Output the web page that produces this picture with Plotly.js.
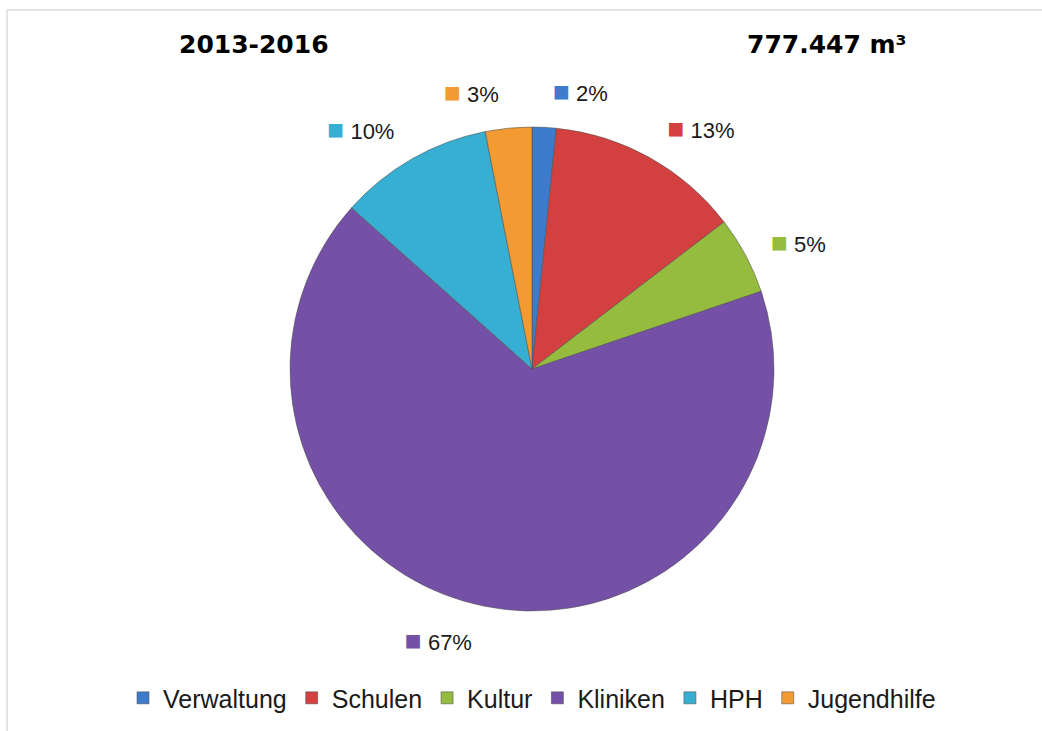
<!DOCTYPE html>
<html>
<head>
<meta charset="utf-8">
<script src="https://cdn.plot.ly/plotly-3.0.1.min.js"></script>
<style>
  body { margin: 0; background: #fff; }
  #plot { width: 1042px; height: 731px; }
  #frame {
    position: absolute; left: 6px; top: 9px; right: 0; bottom: 0;
    border-top: 2px solid #e4e4e4; border-left: 2px solid #e4e4e4;
    pointer-events: none;
  }
</style>
</head>
<body>
<div id="plot"></div>
<div id="frame"></div>
<script>
// Anteile nach Bereich (in %), 2013-2016
var bereiche = ["Verwaltung", "Schulen", "Kultur", "Kliniken", "HPH", "Jugendhilfe"];
var anteile = [1.6, 13.0, 5.2, 66.8, 10.3, 3.1];
var farben = ["#3d7ccc", "#d2413f", "#95bc3f", "#7450a6", "#36afd2", "#f39a32"];

var summe = anteile.reduce(function (a, b) { return a + b; }, 0);

// label = coloured square + percentage
var labelText = anteile.map(function (v, i) {
  return '<span style="color:' + farben[i] + ';font-size:28px">■</span> ' + Math.round(v / summe * 100) + '%';
});

// the visible pie
var pie = {
  type: "pie",
  labels: bereiche,
  values: anteile,
  textinfo: "none",
  sort: false,
  direction: "clockwise",
  rotation: 0,
  domain: { x: [0, 1], y: [0.0382, 0.9618] },
  marker: {
    colors: farben,
    line: { color: "rgba(80,80,80,0.55)", width: 1 }
  },
  hoverinfo: "label+percent"
};

// a slightly larger, invisible pie that only carries the outside labels
var labelRing = {
  type: "pie",
  labels: bereiche,
  values: anteile,
  text: labelText,
  textinfo: "text",
  textposition: "outside",
  sort: false,
  direction: "clockwise",
  rotation: 0,
  domain: { x: [0, 1], y: [0, 1] },
  showlegend: false,
  hoverinfo: "skip",
  marker: { colors: farben.map(function () { return "rgba(0,0,0,0)"; }), line: { width: 0 } },
  textfont: { family: "Liberation Sans, Arial, sans-serif", size: 22, color: "#1a1a1a" }
};

var layout = {
  width: 1042,
  height: 731,
  margin: { l: 22, r: 0, t: 107, b: 100 },
  paper_bgcolor: "#fff",
  showlegend: true,
  legend: {
    orientation: "h",
    x: 0.5, xanchor: "center",
    y: -0.128, yanchor: "middle",
    font: { family: "Liberation Sans, Arial, sans-serif", size: 25, color: "#1a1a1a" }
  },
  annotations: [
    {
      text: "<b>2013-2016</b>", xref: "paper", yref: "paper",
      x: 0.2275, y: 1.12, xanchor: "center", yanchor: "middle", showarrow: false,
      font: { family: "DejaVu Sans, Verdana, sans-serif", size: 25, color: "#000" }
    },
    {
      text: "<b>777.447 m³</b>", xref: "paper", yref: "paper",
      x: 0.789, y: 1.12, xanchor: "center", yanchor: "middle", showarrow: false,
      font: { family: "DejaVu Sans, Verdana, sans-serif", size: 25, color: "#000" }
    }
  ]
};

Plotly.newPlot("plot", [pie, labelRing], layout, { displayModeBar: false, staticPlot: true });
</script>
</body>
</html>
